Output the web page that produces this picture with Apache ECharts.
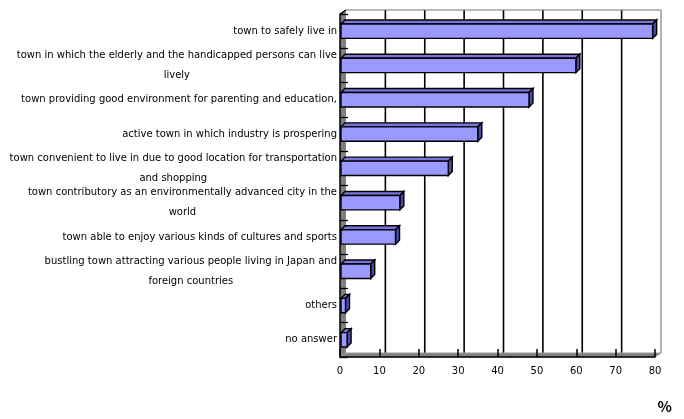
<!DOCTYPE html>
<html>
<head>
<meta charset="utf-8">
<script src="https://cdn.jsdelivr.net/npm/echarts@6/dist/echarts.min.js"></script>
<style>
  html, body { margin: 0; padding: 0; background: #fff; }
  #chart { width: 684px; height: 419px; }
</style>
</head>
<body>
<div id="chart"></div>
<script>
// Survey answers: what kind of town people want it to be (share of respondents, %)
const categories = [
  'town to safely live in',
  'town in which the elderly and the handicapped persons can live\nlively',
  'town providing good environment for parenting and education,',
  'active town in which industry is prospering',
  'town convenient to live in due to good location for transportation\nand shopping',
  'town contributory as an environmentally advanced city in the\nworld',
  'town able to enjoy various kinds of cultures and sports',
  'bustling town attracting various people living in Japan and\nforeign countries',
  'others',
  'no answer'
];
const shares = [79.4, 59.9, 48.0, 35.0, 27.5, 15.2, 14.1, 7.8, 1.4, 1.8];
const xTicks = [0, 10, 20, 30, 40, 50, 60, 70, 80];
const unitLabel = '%';

// pseudo-3D depth of the walls and of the bars
const WX = 6, WY = 4;
const DX = 4, DY = 4;
const FRONT = '#9999FF', TOP = '#7777DD', SIDE = '#4C4CA6';
const WALL = '#808080';

const chart = echarts.init(document.getElementById('chart'));

function renderFrame(params, api) {
  const cs = params.coordSys;
  const l = cs.x, t = cs.y, r = cs.x + cs.width, b = cs.y + cs.height;
  const children = [];
  // back wall grid lines
  xTicks.forEach(function (v, i) {
    if (i === 0) return;
    const x = api.coord([v, 0])[0] + WX;
    const last = i === xTicks.length - 1;
    children.push({
      type: 'line',
      shape: { x1: x, y1: t - WY, x2: x, y2: b - WY },
      style: { stroke: last ? '#999' : '#000', lineWidth: last ? 1.5 : 1.6 }
    });
  });
  // back wall top edge
  children.push({
    type: 'line',
    shape: { x1: l + WX, y1: t - WY, x2: r + WX, y2: t - WY },
    style: { stroke: '#777', lineWidth: 1.2 }
  });
  // left wall
  children.push({
    type: 'polygon',
    shape: { points: [[l, t], [l + WX, t - WY], [l + WX, b - WY], [l, b]] },
    style: { fill: WALL }
  });
  // floor
  children.push({
    type: 'polygon',
    shape: { points: [[l, b], [l + WX, b - WY], [r + WX, b - WY], [r, b]] },
    style: { fill: WALL, stroke: '#999', lineWidth: 1 }
  });
  children.push({
    type: 'line',
    shape: { x1: l, y1: t, x2: l + WX, y2: t - WY },
    style: { stroke: '#000', lineWidth: 1.5 }
  });
  return { type: 'group', children: children };
}

function renderBar(params, api) {
  const v = api.value(0), c = api.value(1);
  const p0 = api.coord([0, c]);
  const p1 = api.coord([v, c]);
  const band = api.size([0, 1])[1];
  const h = band * 0.42;
  const x0 = p0[0] + 1, x1 = p1[0];
  const y0 = p0[1] - h / 2, y1 = p0[1] + h / 2;
  const edge = { stroke: '#000', lineWidth: 1.4, lineJoin: 'miter' };
  return {
    type: 'group',
    children: [
      { type: 'polygon', shape: { points: [[x0, y0], [x0 + DX, y0 - DY], [x1 + DX, y0 - DY], [x1, y0]] },
        style: Object.assign({ fill: TOP }, edge) },
      { type: 'polygon', shape: { points: [[x1, y0], [x1 + DX, y0 - DY], [x1 + DX, y1 - DY], [x1, y1]] },
        style: Object.assign({ fill: SIDE }, edge) },
      { type: 'rect', shape: { x: x0, y: y0, width: x1 - x0, height: y1 - y0 },
        style: Object.assign({ fill: FRONT }, edge) }
    ]
  };
}

const option = {
  animation: false,
  backgroundColor: '#fff',
  grid: { left: 340, top: 14, width: 315, height: 343, containLabel: false },
  xAxis: {
    type: 'value',
    min: 0, max: 80, interval: 10,
    z: 5,
    axisLine: { show: true, lineStyle: { color: '#000', width: 1.5 } },
    axisTick: { show: true, inside: true, length: 8, lineStyle: { color: '#000', width: 1.5 } },
    splitLine: { show: false },
    axisLabel: { color: '#000', fontSize: 10, fontFamily: 'DejaVu Sans', margin: 9 }
  },
  yAxis: {
    type: 'category',
    data: categories,
    inverse: true,
    z: 5,
    axisLine: { show: true, lineStyle: { color: '#000', width: 1.5 } },
    axisTick: { show: true, inside: true, length: 8, interval: 0, lineStyle: { color: '#000', width: 1.3 } },
    axisLabel: {
      interval: 0,
      margin: 3,
      formatter: function (val) {
        return val.split('\n').map(function (s) { return '{c|' + s + '}'; }).join('\n');
      },
      rich: {
        c: { align: 'center', lineHeight: 20, fontSize: 10, fontFamily: 'DejaVu Sans', color: '#000' }
      }
    }
  },
  graphic: [{
    type: 'text', right: 12, bottom: 5,
    style: { text: unitLabel, fontSize: 15, fontWeight: 'bold', fontFamily: 'Noto Sans CJK JP', fill: '#000' }
  }],
  series: [
    { type: 'custom', z: 1, silent: true, data: [[0, 0]], renderItem: renderFrame },
    {
      type: 'custom', z: 3,
      encode: { x: 0, y: 1 },
      data: shares.map(function (v, i) { return [v, i]; }),
      renderItem: renderBar
    }
  ]
};
chart.setOption(option);
</script>
</body>
</html>
